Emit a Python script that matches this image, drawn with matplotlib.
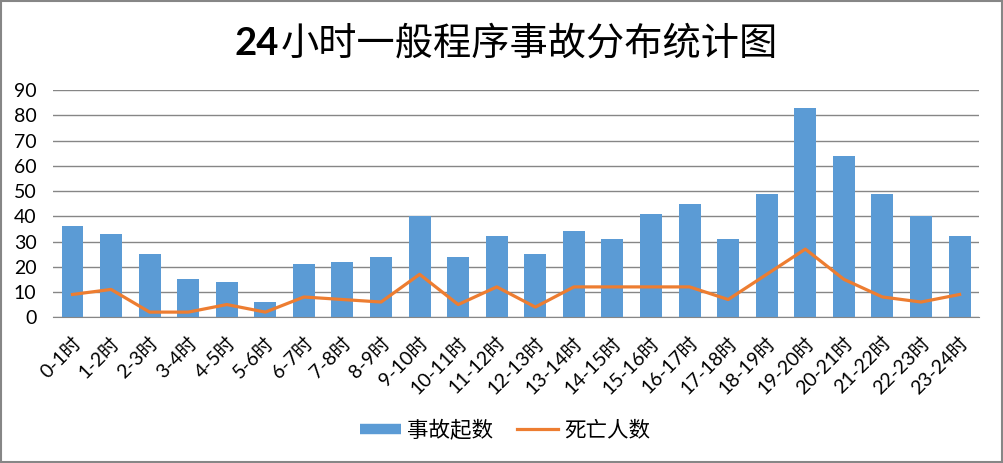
import matplotlib
matplotlib.use("Agg")
import matplotlib.pyplot as plt
import numpy as np
from matplotlib.patches import Rectangle
from matplotlib.lines import Line2D

plt.rcParams['font.family'] = ['Lato', 'Noto Sans CJK SC', 'DejaVu Sans']

# data
hours = ['0-1时', '1-2时', '2-3时', '3-4时', '4-5时', '5-6时', '6-7时', '7-8时',
         '8-9时', '9-10时', '10-11时', '11-12时', '12-13时', '13-14时', '14-15时',
         '15-16时', '16-17时', '17-18时', '18-19时', '19-20时', '20-21时',
         '21-22时', '22-23时', '23-24时']
accidents = [36, 33, 25, 15, 14, 6, 21, 22, 24, 40, 24, 32, 25, 34, 31, 41,
             45, 31, 49, 83, 64, 49, 40, 32]
deaths = [9, 11, 2, 2, 5, 2, 8, 7, 6, 17, 5, 12, 4, 12, 12, 12, 12, 7, 17,
          27, 15, 8, 6, 9]

bar_color = '#5B9BD5'
line_color = '#ED7D31'

fig = plt.figure(figsize=(10.04, 4.63), dpi=100)
ax = fig.add_axes([0.053, 0.315, 0.922, 0.49])

x = np.arange(len(hours))
ax.bar(x, accidents, width=0.57, color=bar_color, zorder=2)
ax.plot(x, deaths, color=line_color, linewidth=2.3, zorder=3)

ax.set_xlim(-0.5, len(hours) - 0.5)
ax.set_ylim(0, 90)
ax.set_yticks(range(0, 91, 10))
ax.yaxis.grid(True, color='#868686', linewidth=1.0, zorder=0)
ax.set_axisbelow(True)
for s in ['left', 'right', 'top']:
    ax.spines[s].set_visible(False)
ax.spines['bottom'].set_color('#868686')
ax.tick_params(axis='both', length=0, labelsize=14, colors='#000000')
ax.tick_params(axis='y', pad=12)
ax.set_xticks(x)
ax.set_xticklabels(hours, rotation=45, ha='right', rotation_mode='anchor')
ax.tick_params(axis='x', pad=12)

# title: "24" bold, the rest regular
r = fig.canvas.get_renderer()
t1 = fig.text(0, 0.905, '24', fontsize=27.5, fontweight='bold', va='center',
              family=['Lato', 'Noto Sans CJK SC'])
t2 = fig.text(0, 0.905, '小时一般程序事故分布统计图', fontsize=27.5, va='center',
              family=['Noto Sans CJK SC', 'DejaVu Sans'])
w1 = t1.get_window_extent(r).width
w2 = t2.get_window_extent(r).width
W = fig.get_figwidth() * fig.dpi
start = 0.503 * W - (w1 + w2) / 2
t1.set_x(start / W)
t2.set_x((start + w1 + 2) / W)

handles = [Line2D([], [], color=bar_color, linewidth=7.5, solid_capstyle='butt'),
           Line2D([], [], color=line_color, linewidth=2.3)]
fig.legend(handles, ['事故起数', '死亡人数'], loc='center',
           bbox_to_anchor=(0.503, 0.072), ncol=2, frameon=False,
           fontsize=15.5, handlelength=1.9, columnspacing=1.1, handletextpad=0.3)

fig.patches.append(Rectangle((0.001, 0.002), 0.997, 0.996, transform=fig.transFigure,
                             fill=False, edgecolor='#868686', linewidth=1.5))

fig.savefig('out.png', dpi=100)
